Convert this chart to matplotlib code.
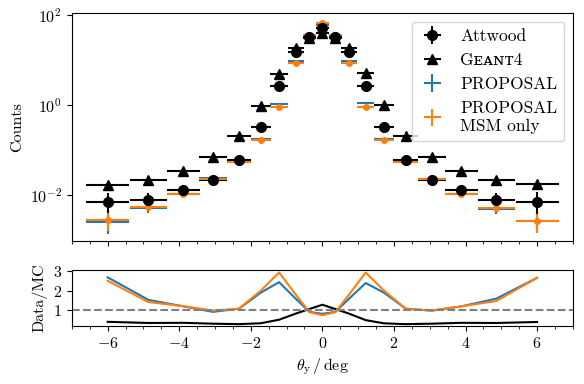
import matplotlib
matplotlib.use('Agg')
from matplotlib import pyplot as plt
from matplotlib.ticker import MultipleLocator, NullLocator, FixedLocator
import numpy as np

plt.rcParams['font.family'] = ['cmr10', 'DejaVu Serif']
plt.rcParams['mathtext.fontset'] = 'cm'
plt.rcParams['axes.formatter.use_mathtext'] = True
plt.rcParams['font.size'] = 11.5
plt.rcParams['axes.unicode_minus'] = True

# bin centres and half widths (deg)
theta = [-6.0, -4.86, -3.88, -3.06, -2.33, -1.72, -1.21, -0.74, -0.36, 0.0,
         0.36, 0.74, 1.21, 1.72, 2.33, 3.06, 3.88, 4.86, 6.0]
theta_err = [0.6, 0.52, 0.455, 0.385, 0.345, 0.28, 0.24, 0.22, 0.18, 0.18,
             0.18, 0.22, 0.24, 0.28, 0.345, 0.385, 0.455, 0.52, 0.6]

attwood = [0.0069, 0.0078, 0.0127, 0.022, 0.059, 0.33, 2.6, 15.0, 33.0, 50.0,
           33.0, 15.0, 2.6, 0.33, 0.059, 0.022, 0.0127, 0.0078, 0.0070]
attwood_err = [0.0045, 0.0032, 0.002, 0.003, 0.006, 0.02, 0.1, 0.4, 0.7, 0.9,
               0.7, 0.4, 0.1, 0.02, 0.006, 0.003, 0.002, 0.0032, 0.0045]
geant4 = [0.0167, 0.022, 0.035, 0.069, 0.2, 0.97, 5.0, 18.0, 31.0, 39.0,
          31.0, 18.0, 5.2, 0.98, 0.2, 0.069, 0.035, 0.022, 0.0173]
proposal = [0.00258, 0.0051, 0.0106, 0.0239, 0.0546, 0.174, 1.07, 9.5, 36.0, 61.0,
            36.0, 9.5, 1.09, 0.174, 0.0546, 0.0224, 0.0106, 0.0049, 0.00264]
proposal_err = [0.0012, 0.001, 0.0012, 0.002, 0.003, 0.008, 0.03, 0.1, 0.2, 0.3,
                0.2, 0.1, 0.03, 0.008, 0.003, 0.002, 0.0012, 0.001, 0.0012]
msm = [0.00276, 0.0055, 0.0105, 0.0224, 0.0546, 0.165, 0.89, 8.4, 36.7, 66.7,
       36.7, 8.4, 0.89, 0.165, 0.0546, 0.0224, 0.0106, 0.0053, 0.00264]
msm_err = [0.0012, 0.001, 0.0012, 0.002, 0.003, 0.008, 0.03, 0.1, 0.2, 0.3,
           0.2, 0.1, 0.03, 0.008, 0.003, 0.002, 0.0012, 0.001, 0.0012]

theta = np.array(theta)
attwood = np.array(attwood)

fig = plt.figure(figsize=(5.84, 3.84), dpi=100)
ax = fig.add_axes([0.123, 0.372, 0.858, 0.594])
axr = fig.add_axes([0.123, 0.151, 0.858, 0.146], sharex=ax)

ax.errorbar(theta, attwood, xerr=theta_err, yerr=attwood_err, fmt='o', color='k',
            ms=7, lw=1.5, label='Attwood')
ax.errorbar(theta, geant4, xerr=theta_err, fmt='^', color='k',
            ms=7, lw=1.5, label='G\u1d07\u1d00\u0274\u1d1b4')
ax.errorbar(theta, proposal, xerr=theta_err, yerr=proposal_err, fmt='none',
            color='C0', lw=1.5, label='PROPOSAL')
ax.errorbar(theta, msm, xerr=theta_err, yerr=msm_err, fmt='none',
            color='C1', lw=1.5, label='PROPOSAL\nMSM only')
ax.plot(theta, msm, 'o', color='C1', ms=4)

ax.set_yscale('log')
ax.set_ylim(9.5e-4, 110)
ax.yaxis.set_major_locator(FixedLocator([1e-2, 1, 1e2]))
ax.yaxis.set_minor_locator(NullLocator())
ax.set_ylabel('Counts')
ax.tick_params(labelbottom=False)
ax.legend(loc='upper right', fontsize=12.5, handlelength=1.6)

axr.plot(theta, attwood / np.array(geant4), color='k', lw=1.5)
axr.plot(theta, attwood / np.array(proposal), color='C0', lw=1.5)
axr.plot(theta, attwood / np.array(msm), color='C1', lw=1.5)
axr.axhline(1, color='gray', ls='--', lw=1.5)
axr.set_ylim(0.2, 3.05)
axr.set_yticks([1, 2, 3])
axr.set_xlim(-7, 7)
axr.xaxis.set_major_locator(MultipleLocator(2))
axr.xaxis.set_minor_locator(MultipleLocator(0.5))
axr.set_ylabel('Data/MC')
axr.set_xlabel(r'$\theta_\mathrm{y}\,/\,\mathrm{deg}$')

plt.savefig('out.png', dpi=100)
